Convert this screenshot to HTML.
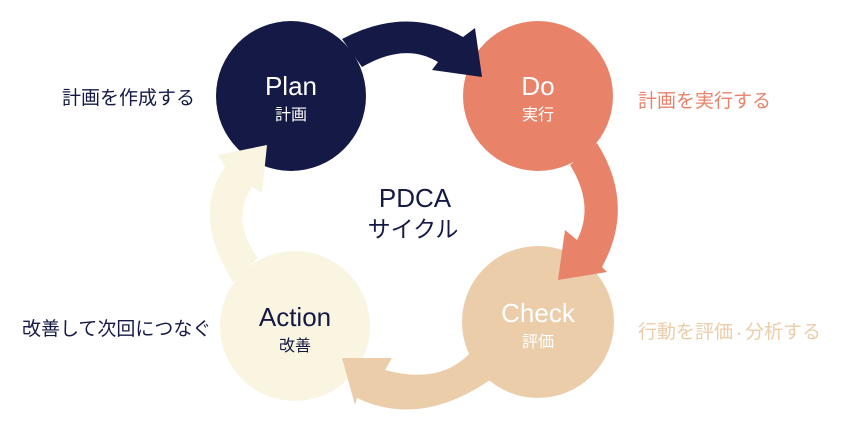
<!DOCTYPE html>
<html><head><meta charset="utf-8"><style>
body{margin:0;width:845px;height:427px;background:#fff;overflow:hidden}
svg text{font-family:"Liberation Sans","Noto Sans CJK JP",sans-serif}
</style></head><body>
<svg width="845" height="427" viewBox="0 0 845 427" xmlns="http://www.w3.org/2000/svg">
<circle cx="291" cy="96" r="75" fill="#141a45"/>
<circle cx="538" cy="96" r="75" fill="#e8836a"/>
<circle cx="538" cy="322" r="76" fill="#ebcdaa"/>
<circle cx="295" cy="326" r="75" fill="#faf5e0"/>
<path d="M342,39 Q407,5 463,37 L475,28 L482,77 L432,70 L438,62 Q405,42 362,67 Z" fill="#141a45"/>
<path d="M597,143 Q636,205 602,267 L607,272 L558,280 L565,230 L577,240 Q595,205 570,165 Z" fill="#e8836a"/>
<path d="M470,353 Q440,385 385,370 L392,358 L342,358 L355,405 L357,398 Q420,428 490,380 Z" fill="#ebcdaa"/>
<path d="M233,282 Q191,215 225,167 L218,155 L267,145 L262,193 L252,187 Q230,220 258,258 Z" fill="#faf5e0"/>
<g text-anchor="middle">
<text x="291" y="95" font-size="26" fill="#fff">Plan</text>
<text x="291" y="120" font-size="16" fill="#fff">計画</text>
<text x="538" y="95" font-size="26" fill="#fff">Do</text>
<text x="538" y="120" font-size="16" fill="#fff">実行</text>
<text x="538" y="322" font-size="26" fill="#fff">Check</text>
<text x="538" y="347" font-size="16" fill="#fff">評価</text>
<text x="295" y="326" font-size="26" fill="#141a45">Action</text>
<text x="295" y="351" font-size="16" fill="#141a45">改善</text>
<text x="415" y="207" font-size="26" fill="#141a45">PDCA</text>
<text x="413" y="237" font-size="23" fill="#141a45">サイクル</text>
</g>
<text x="62" y="104" font-size="19" fill="#141a45">計画を作成する</text>
<text x="638" y="107" font-size="19" fill="#e8836a">計画を実行する</text>
<text x="638" y="338" font-size="19" fill="#ebcdaa">行動を評価<tspan font-size="12">・</tspan>分析する</text>
<text x="22" y="335" font-size="19" fill="#141a45">改善して次回につなぐ</text>
</svg>
</body></html>
